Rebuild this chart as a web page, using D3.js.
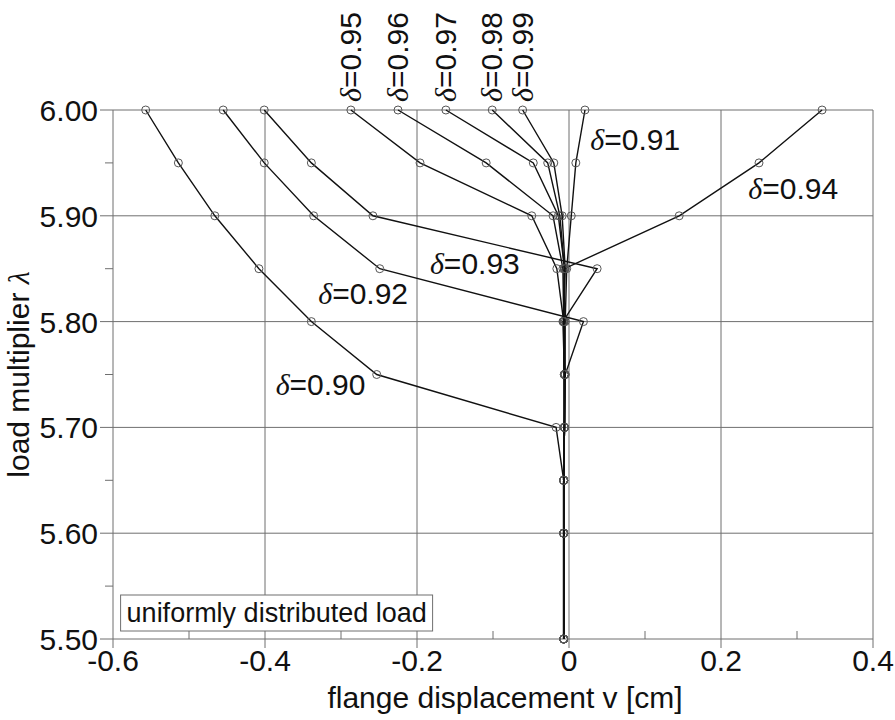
<!DOCTYPE html>
<html>
<head>
<meta charset="utf-8">
<script src="https://cdn.jsdelivr.net/npm/d3@7"></script>
<style>
  html, body { margin: 0; padding: 0; background: #fff; }
  svg { display: block; }
  text { font-family: "Liberation Sans", Arial, sans-serif; fill: #111; }
</style>
</head>
<body>
<svg id="chart" width="895" height="720"></svg>
<script>
// load multiplier levels (shared by all series)
const lambdaLevels = [5.50, 5.60, 5.65, 5.70, 5.75, 5.80, 5.85, 5.90, 5.95, 6.00];

// flange displacement v [cm] per series, one value per lambda level
const d090 = [-0.007, -0.007, -0.007, -0.017, -0.253, -0.339, -0.408, -0.466, -0.514, -0.557];
const d091 = [-0.007, -0.007, -0.007, -0.006, -0.005, -0.005, -0.003, 0.003, 0.009, 0.021];
const d092 = [-0.007, -0.007, -0.007, -0.006, -0.005, 0.019, -0.249, -0.336, -0.401, -0.455];
const d093 = [-0.007, -0.007, -0.007, -0.006, -0.006, -0.008, 0.037, -0.258, -0.339, -0.401];
const d094 = [-0.007, -0.007, -0.007, -0.006, -0.006, -0.007, -0.006, 0.145, 0.250, 0.333];
const d095 = [-0.007, -0.007, -0.007, -0.006, -0.006, -0.007, -0.016, -0.049, -0.196, -0.287];
const d096 = [-0.007, -0.007, -0.007, -0.006, -0.006, -0.007, -0.008, -0.021, -0.109, -0.225];
const d097 = [-0.007, -0.007, -0.007, -0.006, -0.006, -0.007, -0.006, -0.014, -0.047, -0.162];
const d098 = [-0.007, -0.007, -0.007, -0.006, -0.006, -0.007, -0.006, -0.012, -0.028, -0.101];
const d099 = [-0.007, -0.007, -0.007, -0.006, -0.006, -0.007, -0.005, -0.009, -0.020, -0.061];

const seriesNames = ["0.90", "0.91", "0.92", "0.93", "0.94", "0.95", "0.96", "0.97", "0.98", "0.99"];
const seriesValues = [d090, d091, d092, d093, d094, d095, d096, d097, d098, d099];

// ticks
const xTicks = [-0.6, -0.4, -0.2, 0, 0.2, 0.4];
const xTickLabels = ["-0.6", "-0.4", "-0.2", "0", "0.2", "0.4"];
const xMinorTicks = [-0.5, -0.3, -0.1, 0.1, 0.3];
const yTicks = [5.5, 5.6, 5.7, 5.8, 5.9, 6.0];
const yTickLabels = ["5.50", "5.60", "5.70", "5.80", "5.90", "6.00"];
const yMinorTicks = [5.55, 5.65, 5.75, 5.85, 5.95];

// in-plot labels: [series, v, lambda]
const inlineLabels = [["0.91", 0.028, 5.962], ["0.94", 0.236, 5.916], ["0.93", -0.183, 5.845],
                      ["0.92", -0.330, 5.817], ["0.90", -0.386, 5.731]];
// rotated labels above plot
const topLabels = ["0.95", "0.96", "0.97", "0.98", "0.99"];

const xTitle = "flange displacement v [cm]";
const yTitle = "load multiplier ";
const noteText = "uniformly distributed load";

const svg = d3.select("#chart");
const x = d3.scaleLinear().domain([-0.6, 0.4]).range([113, 873]);
const y = d3.scaleLinear().domain([5.5, 6.0]).range([639, 110]);

const gridColor = "#6f6f6f";
const FS = 30;
const g = svg.append("g");

// grid lines
g.selectAll(".vgrid").data(xTicks).enter().append("line")
  .attr("x1", d => x(d)).attr("x2", d => x(d))
  .attr("y1", y(6.0)).attr("y2", y(5.5) + 9)
  .attr("stroke", gridColor).attr("stroke-width", 1);
g.selectAll(".hgrid").data(yTicks).enter().append("line")
  .attr("x1", x(-0.6) - 13).attr("x2", x(0.4))
  .attr("y1", d => y(d)).attr("y2", d => y(d))
  .attr("stroke", gridColor).attr("stroke-width", 1);
// minor ticks
g.selectAll(".xminor").data(xMinorTicks).enter().append("line")
  .attr("x1", d => x(d)).attr("x2", d => x(d))
  .attr("y1", y(5.5)).attr("y2", y(5.5) - 8)
  .attr("stroke", gridColor).attr("stroke-width", 1);
g.selectAll(".yminor").data(yMinorTicks).enter().append("line")
  .attr("x1", x(-0.6) - 8).attr("x2", x(-0.6))
  .attr("y1", d => y(d)).attr("y2", d => y(d))
  .attr("stroke", gridColor).attr("stroke-width", 1);

// tick labels
g.selectAll(".xlab").data(xTicks).enter().append("text")
  .attr("x", d => x(d)).attr("y", y(5.5) + 32)
  .attr("text-anchor", "middle").attr("font-size", FS)
  .text((d, i) => xTickLabels[i]);
g.selectAll(".ylab").data(yTicks).enter().append("text")
  .attr("x", x(-0.6) - 15).attr("y", d => y(d) + 11)
  .attr("text-anchor", "end").attr("font-size", FS)
  .text((d, i) => yTickLabels[i]);

// axis titles
svg.append("text").attr("x", 505).attr("y", 708)
  .attr("text-anchor", "middle").attr("font-size", FS).text(xTitle);
const yt = svg.append("text")
  .attr("transform", `translate(29, ${(y(5.5) + y(6.0)) / 2}) rotate(-90)`)
  .attr("text-anchor", "middle").attr("font-size", FS);
yt.append("tspan").text(yTitle);
yt.append("tspan").attr("font-family", "'Liberation Serif', serif").attr("font-style", "italic").text("λ");

// series lines and markers
const line = d3.line().x(d => x(d[0])).y(d => y(d[1]));
seriesValues.forEach((vals, si) => {
  const pts = vals.map((v, i) => [v, lambdaLevels[i]]);
  g.append("path").datum(pts).attr("d", line)
    .attr("fill", "none").attr("stroke", "#111").attr("stroke-width", 1.4);
  g.selectAll(".pt" + si).data(pts).enter().append("circle")
    .attr("cx", d => x(d[0])).attr("cy", d => y(d[1])).attr("r", 4)
    .attr("fill", "none").attr("stroke", "#555").attr("stroke-width", 1);
});

function deltaLabel(sel, name) {
  sel.append("tspan").attr("font-family", "'Liberation Serif', serif")
    .attr("font-style", "italic").text("δ");
  sel.append("tspan").text("=" + name);
}

inlineLabels.forEach(([name, v, lam]) => {
  const t = svg.append("text").attr("x", x(v)).attr("y", y(lam)).attr("font-size", FS);
  deltaLabel(t, name);
});

topLabels.forEach(name => {
  const vals = seriesValues[seriesNames.indexOf(name)];
  const t = svg.append("text")
    .attr("transform", `translate(${x(vals[vals.length - 1]) + 10}, ${y(6.0) - 8}) rotate(-90)`)
    .attr("font-size", FS);
  deltaLabel(t, name);
});

// note box
const nb = svg.append("g");
nb.append("rect").attr("x", x(-0.59)).attr("y", 595).attr("width", 312).attr("height", 36)
  .attr("fill", "#fff").attr("stroke", gridColor).attr("stroke-width", 1);
nb.append("text").attr("x", x(-0.59) + 6).attr("y", 622).attr("font-size", 27).text(noteText);
</script>
</body>
</html>
